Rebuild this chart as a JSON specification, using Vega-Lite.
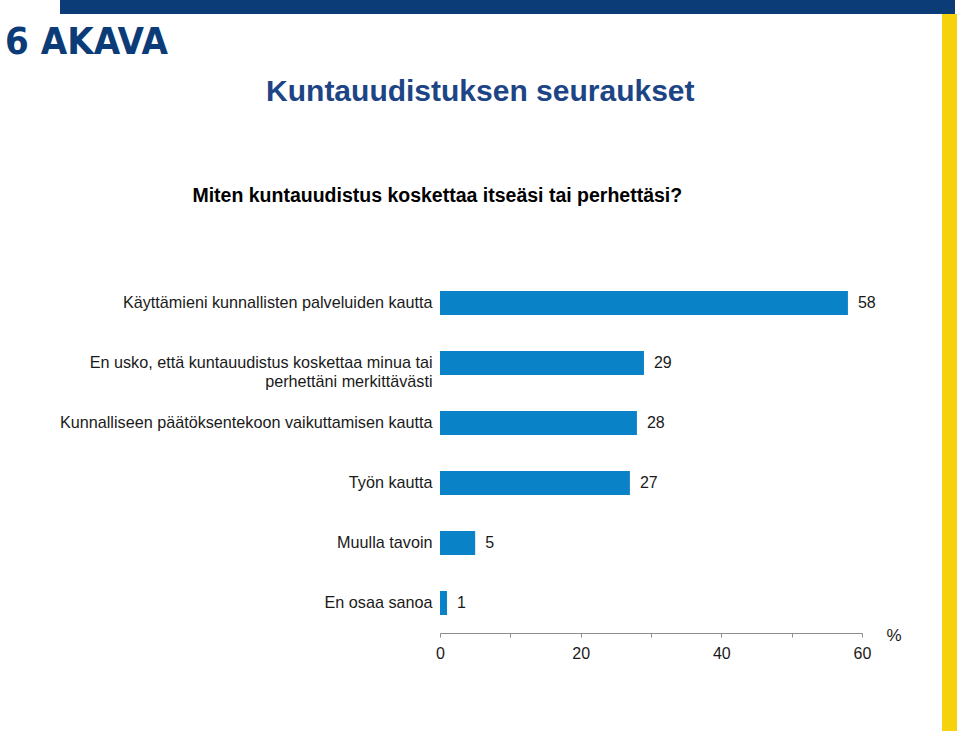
{
  "$schema": "https://vega.github.io/schema/vega-lite/v6.json",
  "padding": 0,
  "background": "white",
  "spacing": 0,
  "align": "none",
  "config": {
    "view": {"stroke": null},
    "font": "Liberation Sans",
    "concat": {"spacing": 0}
  },
  "hconcat": [
    {
      "align": "none",
      "spacing": 9,
      "vconcat": [
        {
          "spacing": 0,
          "align": "none",
          "hconcat": [
            {
              "width": 60, "height": 14,
              "view": {"fill": "white"},
              "data": {"values": []},
              "mark": "point"
            },
            {
              "width": 882, "height": 14,
              "view": {"fill": "#0b3c78"},
              "data": {"values": []},
              "mark": "point"
            }
          ]
        },
        {
          "title": {
            "text": "6 AKAVA",
            "anchor": "start",
            "font": "DejaVu Sans Condensed, DejaVu Sans",
            "fontSize": 38,
            "fontWeight": "bold",
            "color": "#0b3c78",
            "offset": 15,
            "dx": 5
          },
          "spacing": 0,
          "align": "none",
          "hconcat": [
            {
              "width": 59, "height": 1,
              "view": {"fill": "white"},
              "data": {"values": []},
              "mark": "point"
            },
            {
              "width": 422,
              "height": 360,
              "title": {
                "text": "Kuntauudistuksen seuraukset",
                "subtitle": "Miten kuntauudistus koskettaa itseäsi tai perhettäsi?",
                "anchor": "middle",
                "frame": "bounds",
                "font": "Liberation Sans",
                "fontSize": 30,
                "fontWeight": "bold",
                "color": "#1d4585",
                "subtitleFont": "Liberation Sans",
                "subtitleFontSize": 19.5,
                "subtitleFontWeight": "bold",
                "subtitleColor": "#000000",
                "subtitlePadding": 80,
                "offset": 68,
                "encode": {"subtitle": {"update": {"dx": {"value": -43}}}}
              },
              "data": {
                "values": [
                  {"label": "Käyttämieni kunnallisten palveluiden kautta", "value": 58},
                  {"label": "En usko, että kuntauudistus koskettaa minua tai|perhettäni merkittävästi", "value": 29},
                  {"label": "Kunnalliseen päätöksentekoon vaikuttamisen kautta", "value": 28},
                  {"label": "Työn kautta", "value": 27},
                  {"label": "Muulla tavoin", "value": 5},
                  {"label": "En osaa sanoa", "value": 1}
                ]
              },
              "encoding": {
                "y": {
                  "field": "label",
                  "type": "nominal",
                  "sort": null,
                  "scale": {"paddingInner": 0.6, "paddingOuter": 0.3},
                  "axis": {
                    "title": null,
                    "domain": false,
                    "ticks": false,
                    "labelPadding": 8,
                    "labelFontSize": 16.2,
                    "labelColor": "#1a1a1a",
                    "labelLimit": 500,
                    "labelLineHeight": 19,
                    "labelExpr": "split(datum.value, '|')"
                  }
                }
              },
              "layer": [
                {
                  "mark": {"type": "bar", "color": "#0a82c8"},
                  "encoding": {
                    "x": {
                      "field": "value",
                      "type": "quantitative",
                      "scale": {"domain": [0, 60], "nice": false},
                      "axis": {
                        "values": [0, 10, 20, 30, 40, 50, 60],
                        "labelExpr": "datum.value % 20 == 0 ? datum.label : ''",
                        "labelFlush": false,
                        "labelOverlap": false,
                        "grid": false,
                        "domainColor": "#8c8c8c",
                        "tickColor": "#8c8c8c",
                        "tickSize": 4,
                        "labelFontSize": 16,
                        "labelColor": "#1a1a1a",
                        "labelPadding": 8,
                        "title": "%",
                        "titleFontSize": 17,
                        "titleFontWeight": "normal",
                        "titleColor": "#1a1a1a",
                        "titleAngle": 0,
                        "titleAlign": "left",
                        "titleBaseline": "middle",
                        "titleX": 446,
                        "titleY": 2
                      }
                    }
                  }
                },
                {
                  "mark": {"type": "text", "align": "left", "baseline": "middle", "dx": 10, "fontSize": 16, "color": "#1a1a1a"},
                  "encoding": {
                    "x": {"field": "value", "type": "quantitative"},
                    "text": {"field": "value", "type": "quantitative"}
                  }
                }
              ]
            }
          ]
        }
      ]
    },
    {
      "align": "none",
      "spacing": 0,
      "vconcat": [
        {
          "width": 13, "height": 14,
          "view": {"fill": "#0b3c78"},
          "data": {"values": []},
          "mark": "point"
        },
        {
          "width": 15, "height": 717,
          "view": {"fill": "#f6d10e"},
          "data": {"values": []},
          "mark": "point"
        }
      ]
    }
  ]
}
